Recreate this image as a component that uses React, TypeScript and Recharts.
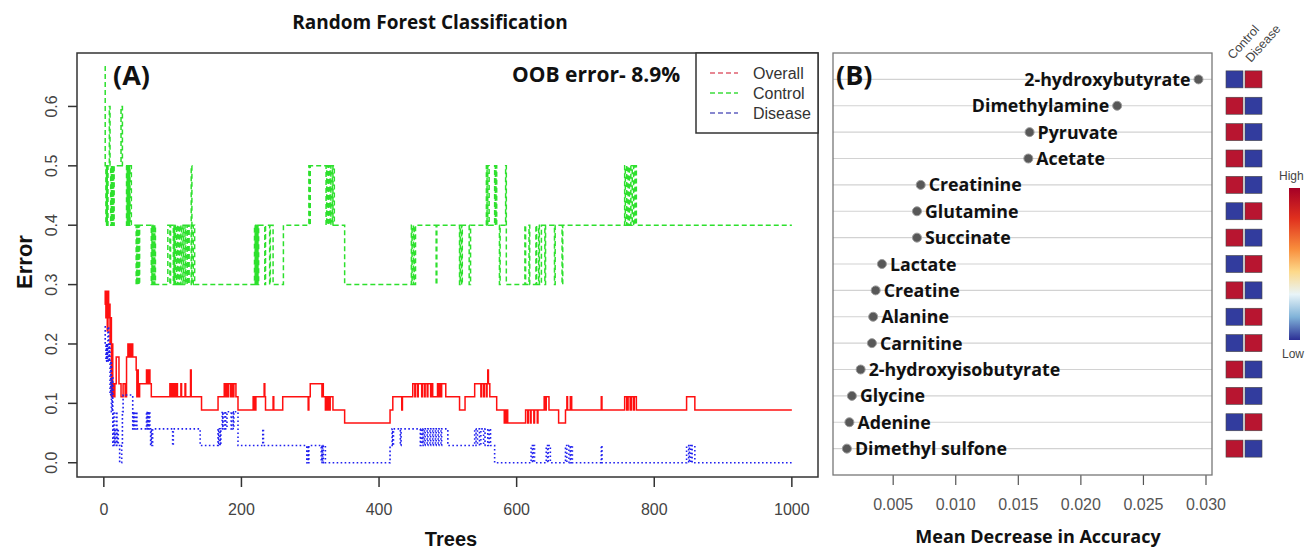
import React from 'react';
import { LineChart, Line, XAxis, YAxis, ScatterChart, Scatter, ReferenceLine } from 'recharts';

// OOB error per number of trees as [tree, error] change points (step series)
const OVERALL: [number, number][] = [
  [1, 0.267], [2, 0.289], [3, 0.244], [4, 0.289], [5, 0.222], [6, 0.289], [7, 0.244], [8, 0.267], [9, 0.2], [10, 0.244],
  [11, 0.111], [12, 0.2], [13, 0.133], [14, 0.111], [16, 0.133], [18, 0.178], [22, 0.133], [25, 0.111], [28, 0.133], [31, 0.111],
  [33, 0.178], [35, 0.2], [36, 0.178], [38, 0.2], [39, 0.178], [41, 0.2], [42, 0.178], [47, 0.156], [48, 0.111], [49, 0.156],
  [50, 0.111], [52, 0.133], [62, 0.156], [64, 0.133], [65, 0.156], [67, 0.133], [69, 0.111], [96, 0.133], [97, 0.111], [99, 0.133],
  [100, 0.111], [102, 0.133], [103, 0.111], [105, 0.133], [107, 0.111], [112, 0.133], [113, 0.111], [118, 0.133], [119, 0.111],
  [126, 0.156], [127, 0.111], [142, 0.089], [166, 0.111], [175, 0.133], [176, 0.111], [178, 0.133], [180, 0.111], [181, 0.133],
  [184, 0.111], [186, 0.133], [187, 0.111], [189, 0.133], [192, 0.111], [195, 0.089], [217, 0.111], [218, 0.089], [219, 0.111],
  [220, 0.089], [221, 0.111], [233, 0.133], [234, 0.111], [235, 0.089], [246, 0.111], [247, 0.089], [260, 0.111], [297, 0.089],
  [298, 0.111], [300, 0.133], [317, 0.111], [318, 0.133], [319, 0.111], [322, 0.089], [323, 0.111], [325, 0.089], [326, 0.111],
  [328, 0.089], [329, 0.111], [333, 0.089], [350, 0.067], [416, 0.089], [420, 0.111], [433, 0.089], [434, 0.111], [449, 0.133],
  [452, 0.111], [453, 0.133], [456, 0.111], [457, 0.133], [462, 0.111], [463, 0.133], [466, 0.111], [467, 0.133], [470, 0.111],
  [471, 0.133], [475, 0.111], [477, 0.133], [478, 0.111], [485, 0.133], [487, 0.111], [488, 0.133], [490, 0.111], [491, 0.133],
  [497, 0.111], [517, 0.089], [525, 0.111], [539, 0.133], [548, 0.111], [549, 0.133], [552, 0.111], [553, 0.133], [556, 0.111],
  [557, 0.133], [558, 0.156], [559, 0.133], [561, 0.111], [571, 0.089], [582, 0.067], [583, 0.089], [584, 0.067], [585, 0.089],
  [587, 0.067], [613, 0.089], [616, 0.067], [617, 0.089], [620, 0.067], [621, 0.089], [625, 0.067], [626, 0.089], [630, 0.067],
  [631, 0.089], [640, 0.111], [642, 0.089], [643, 0.111], [647, 0.089], [661, 0.067], [671, 0.089], [673, 0.111], [674, 0.089],
  [678, 0.111], [680, 0.089], [723, 0.111], [724, 0.089], [757, 0.111], [760, 0.089], [762, 0.111], [765, 0.089], [767, 0.111],
  [770, 0.089], [771, 0.111], [774, 0.089], [847, 0.111], [859, 0.089], [1000, 0.089],
];

const CONTROL: [number, number][] = [
  [1, 0.667], [2, 0.5], [3, 0.4], [4, 0.5], [5, 0.4], [6, 0.5], [8, 0.6], [9, 0.5], [10, 0.4], [11, 0.5], [12, 0.4], [13, 0.5],
  [14, 0.4], [15, 0.5], [25, 0.6], [27, 0.5], [33, 0.4], [34, 0.5], [35, 0.4], [36, 0.5], [37, 0.4], [38, 0.5], [40, 0.4],
  [47, 0.3], [48, 0.4], [49, 0.3], [50, 0.4], [51, 0.3], [52, 0.4], [69, 0.3], [70, 0.4], [71, 0.3], [72, 0.4], [73, 0.3],
  [74, 0.4], [75, 0.3], [93, 0.4], [96, 0.3], [97, 0.4], [101, 0.3], [102, 0.4], [103, 0.3], [104, 0.4], [106, 0.3], [107, 0.4],
  [109, 0.3], [110, 0.4], [112, 0.3], [113, 0.4], [115, 0.3], [116, 0.4], [118, 0.3], [119, 0.4], [121, 0.3], [122, 0.4],
  [124, 0.3], [127, 0.5], [128, 0.3], [130, 0.4], [132, 0.3], [219, 0.4], [220, 0.3], [221, 0.4], [222, 0.3], [223, 0.4],
  [224, 0.3], [225, 0.4], [234, 0.3], [235, 0.4], [241, 0.3], [242, 0.4], [246, 0.3], [261, 0.4], [298, 0.5], [299, 0.4],
  [300, 0.5], [323, 0.4], [324, 0.5], [326, 0.4], [327, 0.5], [329, 0.4], [330, 0.5], [332, 0.4], [333, 0.5], [335, 0.4],
  [350, 0.3], [447, 0.4], [448, 0.3], [450, 0.4], [451, 0.3], [453, 0.4], [483, 0.3], [484, 0.4], [517, 0.3], [518, 0.4],
  [520, 0.3], [521, 0.4], [531, 0.3], [533, 0.4], [556, 0.5], [557, 0.4], [558, 0.5], [560, 0.4], [568, 0.5], [569, 0.4],
  [570, 0.5], [571, 0.4], [575, 0.3], [576, 0.4], [584, 0.5], [585, 0.3], [612, 0.4], [613, 0.3], [618, 0.4], [619, 0.3],
  [628, 0.4], [629, 0.3], [632, 0.4], [633, 0.3], [636, 0.4], [641, 0.3], [642, 0.4], [655, 0.3], [656, 0.4], [666, 0.3],
  [667, 0.4], [757, 0.5], [758, 0.4], [760, 0.5], [762, 0.4], [764, 0.5], [766, 0.4], [768, 0.5], [770, 0.4], [772, 0.5],
  [774, 0.4], [1000, 0.4],
];

const DISEASE: [number, number][] = [
  [1, 0.229], [2, 0.2], [3, 0.171], [4, 0.2], [5, 0.171], [6, 0.229], [7, 0.171], [8, 0.2], [9, 0.114], [10, 0.171], [11, 0.086],
  [12, 0.143], [13, 0.029], [14, 0.086], [15, 0.029], [16, 0.057], [17, 0.029], [18, 0.086], [19, 0.029], [20, 0.057],
  [21, 0.029], [23, 0.0], [26, 0.029], [27, 0.086], [28, 0.114], [42, 0.057], [43, 0.086], [44, 0.057], [45, 0.086], [46, 0.057],
  [47, 0.086], [48, 0.057], [62, 0.086], [63, 0.057], [64, 0.086], [65, 0.057], [66, 0.086], [67, 0.057], [68, 0.029], [69, 0.057],
  [70, 0.029], [71, 0.057], [100, 0.029], [101, 0.057], [140, 0.029], [166, 0.057], [167, 0.029], [168, 0.057], [169, 0.029],
  [170, 0.057], [172, 0.086], [173, 0.057], [175, 0.086], [177, 0.057], [179, 0.086], [185, 0.057], [186, 0.086], [188, 0.057],
  [189, 0.086], [195, 0.029], [231, 0.057], [232, 0.029], [295, 0.0], [296, 0.029], [297, 0.0], [298, 0.029], [316, 0.0],
  [317, 0.029], [318, 0.0], [319, 0.029], [322, 0.0], [416, 0.029], [419, 0.057], [420, 0.029], [421, 0.057], [431, 0.029],
  [432, 0.057], [460, 0.029], [461, 0.057], [463, 0.029], [464, 0.057], [466, 0.029], [467, 0.057], [470, 0.029], [471, 0.057],
  [474, 0.029], [475, 0.057], [478, 0.029], [479, 0.057], [482, 0.029], [483, 0.057], [486, 0.029], [487, 0.057], [490, 0.029],
  [491, 0.057], [500, 0.029], [539, 0.057], [541, 0.029], [543, 0.057], [546, 0.029], [548, 0.057], [552, 0.029], [554, 0.057],
  [558, 0.029], [560, 0.057], [562, 0.029], [568, 0.0], [621, 0.029], [623, 0.0], [624, 0.029], [626, 0.0], [643, 0.029],
  [645, 0.0], [646, 0.029], [649, 0.0], [671, 0.029], [673, 0.0], [676, 0.029], [678, 0.0], [679, 0.029], [681, 0.0],
  [723, 0.029], [724, 0.0], [847, 0.029], [850, 0.0], [851, 0.029], [853, 0.0], [855, 0.029], [859, 0.0], [1000, 0.0],
];

const TREE_TICKS = [0, 200, 400, 600, 800, 1000];
const ERROR_TICKS = [0, 0.1, 0.2, 0.3, 0.4, 0.5, 0.6];

// variable importance, listed top to bottom
const METABOLITES = [
  '2-hydroxybutyrate', 'Dimethylamine', 'Pyruvate', 'Acetate', 'Creatinine', 'Glutamine', 'Succinate', 'Lactate',
  'Creatine', 'Alanine', 'Carnitine', '2-hydroxyisobutyrate', 'Glycine', 'Adenine', 'Dimethyl sulfone',
];
const MEAN_DECREASE = [
  0.0294, 0.0229, 0.0159, 0.0158, 0.0072, 0.0069, 0.0069, 0.0041, 0.0036, 0.0034, 0.0033, 0.0024, 0.0017, 0.0015, 0.0013,
];
// true = Control group is high (red), Disease low (blue)
const CONTROL_HIGH = [
  false, true, true, true, true, false, true, false, true, false, false, true, true, false, true,
];
const MDA_TICKS = [0.005, 0.01, 0.015, 0.02, 0.025, 0.03];

const RED = '#b81530';
const BLUE = '#323c9e';

const toRows = (pairs: [number, number][]) => pairs.map(([t, v]) => ({ t, v }));
const overallData = toRows(OVERALL);
const controlData = toRows(CONTROL);
const diseaseData = toRows(DISEASE);

const n = METABOLITES.length;
const dotData = METABOLITES.map((name, i) => ({ name, mda: MEAN_DECREASE[i], row: n - i }));
const heatData = METABOLITES.flatMap((name, i) => [
  { col: 1, row: n - i, high: CONTROL_HIGH[i] },
  { col: 2, row: n - i, high: !CONTROL_HIGH[i] },
]);

const sans = '"Liberation Sans", Arial, sans-serif';
const bold = '"Open Sans", sans-serif';

const ErrorTick = (props: any) => {
  const { x, y, payload } = props;
  const cx = x - 17;
  return (
    <text x={cx} y={y} dy="0.36em" textAnchor="middle" transform={`rotate(-90, ${cx}, ${y})`}
      fontFamily={sans} fontSize={16} fill="#444">
      {payload.value.toFixed(1)}
    </text>
  );
};

const DotWithName = (props: any) => {
  const { cx, cy, payload } = props;
  const left = payload.mda > 0.02;
  return (
    <g>
      <circle cx={cx} cy={cy} r={4.5} fill="#585858" stroke="#9a9a9a" strokeWidth={1} />
      <text x={left ? cx - 8 : cx + 8} y={cy} dy="0.37em" textAnchor={left ? 'end' : 'start'}
        fontFamily={bold} fontWeight={700} fontSize={17.8} fill="#111">
        {payload.name}
      </text>
    </g>
  );
};

const HeatCell = (props: any) => {
  const { cx, cy, payload } = props;
  return <rect x={cx - 8.5} y={cy - 8.5} width={17} height={17} fill={payload.high ? RED : BLUE} stroke="#444" strokeWidth={0.6} />;
};

export default function App() {
  return (
    <div style={{ position: 'absolute', left: 0, top: 0, width: 1306, height: 549, background: '#fff', overflow: 'hidden' }}>
      <div style={{ position: 'absolute', left: 0, top: 0 }}>
        <LineChart width={830} height={549} margin={{ top: 53, right: 12, bottom: 0, left: 0 }}>
          <XAxis dataKey="t" type="number" domain={[-39, 1038]} ticks={TREE_TICKS} allowDataOverflow
            height={72} axisLine={false} tickSize={10} tickMargin={17} tickLine={{ stroke: '#333', strokeWidth: 1.5 }}
            tick={{ fontFamily: sans, fontSize: 16, fill: '#444' }} />
          <YAxis type="number" domain={[-0.024, 0.69]} ticks={ERROR_TICKS} allowDataOverflow width={77}
            axisLine={false} tickSize={9} tickMargin={0} tickLine={{ stroke: '#333', strokeWidth: 1.5 }} tick={<ErrorTick />} />
          <Line data={controlData} dataKey="v" type="stepAfter" stroke="#2de02d" strokeWidth={1.5}
            strokeDasharray="5 3" dot={false} isAnimationActive={false} />
          <Line data={overallData} dataKey="v" type="stepAfter" stroke="#ff1010" strokeWidth={1.5}
            dot={false} isAnimationActive={false} />
          <Line data={diseaseData} dataKey="v" type="stepAfter" stroke="#2020f0" strokeWidth={1.6}
            strokeDasharray="1.6 2.4" dot={false} isAnimationActive={false} />
        </LineChart>
      </div>

      <div style={{ position: 'absolute', left: 820, top: 0 }}>
        <ScatterChart width={420} height={549} margin={{ top: 53, right: 28, bottom: 0, left: 13 }}>
          <XAxis dataKey="mda" type="number" domain={[0.00019, 0.03048]} ticks={MDA_TICKS} allowDataOverflow
            height={74} axisLine={false} tickSize={10} tickMargin={14} tickLine={{ stroke: '#555', strokeWidth: 1.2 }}
            tickFormatter={(v: number) => v.toFixed(3)} tick={{ fontFamily: sans, fontSize: 16, fill: '#555' }} />
          <YAxis dataKey="row" type="number" domain={[0, n + 1]} hide />
          {dotData.map((d) => (
            <ReferenceLine key={d.name} y={d.row} stroke="#d2d2d2" strokeWidth={1.2} />
          ))}
          <Scatter data={dotData} shape={<DotWithName />} isAnimationActive={false} />
        </ScatterChart>
      </div>

      <div style={{ position: 'absolute', left: 1220, top: 0 }}>
        <ScatterChart width={50} height={549} margin={{ top: 53, right: 7, bottom: 74, left: 5 }}>
          <XAxis dataKey="col" type="number" domain={[0.5, 2.5]} hide />
          <YAxis dataKey="row" type="number" domain={[0, n + 1]} hide />
          <Scatter data={heatData} shape={<HeatCell />} isAnimationActive={false} />
        </ScatterChart>
      </div>

      <svg width={1306} height={549} style={{ position: 'absolute', left: 0, top: 0, pointerEvents: 'none' }}>
        <defs>
          <linearGradient id="hl" x1="0" y1="0" x2="0" y2="1">
            <stop offset="0" stopColor="#a50026" />
            <stop offset="0.2" stopColor="#e0301e" />
            <stop offset="0.4" stopColor="#f88d3c" />
            <stop offset="0.55" stopColor="#fdd98a" />
            <stop offset="0.7" stopColor="#e8f4f8" />
            <stop offset="0.85" stopColor="#7fb2d8" />
            <stop offset="1" stopColor="#2c2f95" />
          </linearGradient>
        </defs>
        <text x={430} y={29} textAnchor="middle" fontFamily={bold} fontWeight={700} fontSize={19} fill="#111">
          Random Forest Classification
        </text>

        {/* panel A frame, legend, annotations */}
        <rect x={77} y={53} width={741} height={424} fill="none" stroke="#333" strokeWidth={1.5} />
        <rect x={696} y={53} width={122} height={80} fill="#fff" stroke="#333" strokeWidth={1.5} />
        <line x1={710} x2={738} y1={73} y2={73} stroke="#e06070" strokeWidth={1.5} strokeDasharray="5 3" />
        <line x1={710} x2={738} y1={93} y2={93} stroke="#3ddd3d" strokeWidth={1.5} strokeDasharray="5 3" />
        <line x1={710} x2={738} y1={113} y2={113} stroke="#6060c0" strokeWidth={1.5} strokeDasharray="5 3" />
        <text x={753} y={79} fontFamily={sans} fontSize={16} fill="#333">Overall</text>
        <text x={753} y={99} fontFamily={sans} fontSize={16} fill="#333">Control</text>
        <text x={753} y={119} fontFamily={sans} fontSize={16} fill="#333">Disease</text>
        <text x={113} y={85} fontFamily={bold} fontWeight={700} fontSize={27} fill="#111">(A)</text>
        <text x={512} y={82} fontFamily={bold} fontWeight={700} fontSize={21} fill="#111">OOB error- 8.9%</text>
        <text x={24} y={262} textAnchor="middle" dy="0.36em" transform="rotate(-90, 24, 262)"
          fontFamily={sans} fontWeight={700} fontSize={22} fill="#111">Error</text>
        <text x={451} y={546} textAnchor="middle" fontFamily={sans} fontWeight={700} fontSize={20} fill="#111">Trees</text>

        {/* panel B frame and annotations */}
        <rect x={833} y={53} width={379} height={422} fill="none" stroke="#777" strokeWidth={1.3} />
        <text x={836} y={85} fontFamily={bold} fontWeight={700} fontSize={27} fill="#111">(B)</text>
        <text x={1038} y={543} textAnchor="middle" fontFamily={bold} fontWeight={700} fontSize={18} fill="#111">
          Mean Decrease in Accuracy
        </text>

        {/* heatmap headers and colour key */}
        <text x={1233} y={60} transform="rotate(-48, 1233, 60)" fontFamily={sans} fontSize={12.5} fill="#444">Control</text>
        <text x={1251} y={63} transform="rotate(-48, 1251, 63)" fontFamily={sans} fontSize={12.5} fill="#444">Disease</text>
        <text x={1279} y={180} fontFamily={sans} fontSize={12} fill="#444">High</text>
        <rect x={1289} y={188} width={11} height={152} fill="url(#hl)" />
        <text x={1282} y={358} fontFamily={sans} fontSize={12} fill="#444">Low</text>
      </svg>
    </div>
  );
}
